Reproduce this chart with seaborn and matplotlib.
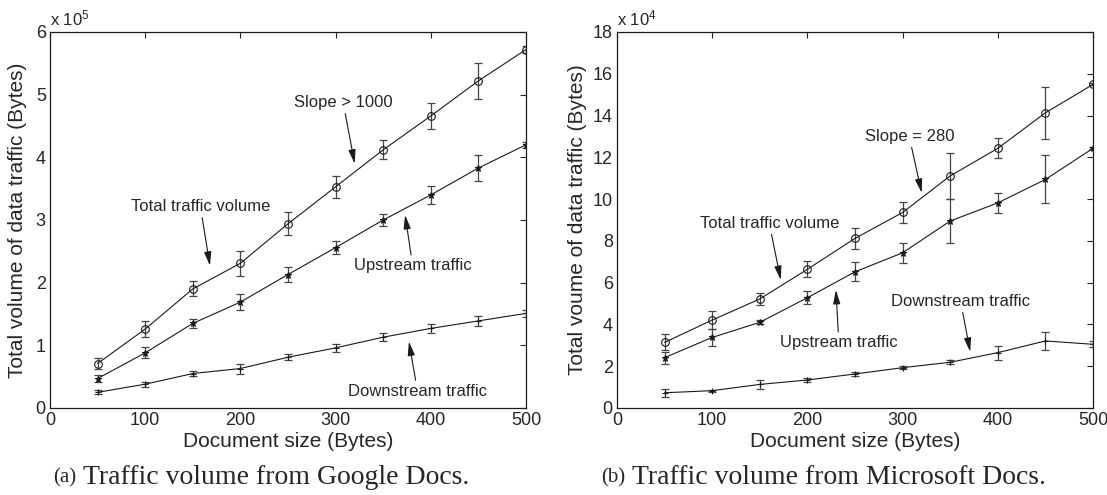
import matplotlib
matplotlib.use("Agg")
import matplotlib.pyplot as plt
import seaborn as sns
import pandas as pd

# document sizes (Bytes)
doc_size = [50, 100, 150, 200, 250, 300, 350, 400, 450, 500]

# Google Docs, values in units of 1e5 Bytes
g_total = [0.71, 1.26, 1.90, 2.31, 2.94, 3.53, 4.12, 4.66, 5.22, 5.72]
g_total_err = [0.08, 0.13, 0.12, 0.20, 0.18, 0.18, 0.15, 0.21, 0.29, 0.05]
g_up = [0.47, 0.88, 1.35, 1.69, 2.13, 2.56, 3.00, 3.40, 3.83, 4.20]
g_up_err = [0.06, 0.09, 0.07, 0.13, 0.12, 0.11, 0.09, 0.15, 0.20, 0.05]
g_down = [0.25, 0.38, 0.55, 0.63, 0.81, 0.96, 1.13, 1.27, 1.39, 1.51]
g_down_err = [0.03, 0.04, 0.04, 0.08, 0.05, 0.06, 0.06, 0.07, 0.08, 0.05]

# Microsoft Docs, values in units of 1e4 Bytes
m_total = [3.14, 4.21, 5.22, 6.64, 8.12, 9.36, 11.11, 12.43, 14.13, 15.49]
m_total_err = [0.38, 0.42, 0.30, 0.38, 0.50, 0.50, 1.12, 0.48, 1.25, 0.05]
m_up = [2.41, 3.38, 4.10, 5.28, 6.52, 7.43, 8.95, 9.82, 10.94, 12.43]
m_up_err = [0.28, 0.40, 0.10, 0.32, 0.45, 0.47, 1.04, 0.49, 1.15, 0.05]
m_down = [0.73, 0.83, 1.13, 1.34, 1.63, 1.93, 2.19, 2.65, 3.21, 3.05]
m_down_err = [0.20, 0.05, 0.20, 0.08, 0.08, 0.08, 0.10, 0.33, 0.45, 0.15]

sns.set_theme(style="white")
plt.rcParams["font.family"] = ["Liberation Sans", "DejaVu Sans"]
plt.rcParams["mathtext.default"] = "regular"

W, H = 1107, 495
fig = plt.figure(figsize=(W / 100, H / 100), dpi=100)
ax1 = fig.add_axes([50 / W, 1 - 408 / H, 476 / W, 376 / H])
ax2 = fig.add_axes([617 / W, 1 - 408 / H, 476 / W, 376 / H])

arrow = dict(arrowstyle="-|>,head_length=0.7,head_width=0.18", color="k",
             lw=0.8, shrinkA=0, shrinkB=0)


def draw_panel(ax, total, total_err, up, up_err, down, down_err):
    series = [(total, total_err, "o"), (up, up_err, "*"), (down, down_err, "+")]
    for vals, errs, mk in series:
        df = pd.DataFrame({"size": doc_size, "vol": vals})
        ax.errorbar(df["size"], df["vol"], yerr=errs, fmt="none",
                    ecolor="#444444", elinewidth=0.9, capsize=3.2, capthick=0.9)
        sns.lineplot(data=df, x="size", y="vol", ax=ax, color="k", lw=0.8,
                     marker=mk, markersize=5.5 if mk == "o" else 5,
                     markerfacecolor="none" if mk == "o" else "k",
                     markeredgecolor="k", markeredgewidth=0.8)
    ax.set_xlim(0, 500)
    ax.set_xticks([0, 100, 200, 300, 400, 500])
    ax.set_xlabel("Document size (Bytes)", fontsize=15, labelpad=2)
    ax.tick_params(direction="in", top=True, right=True, length=4,
                   width=0.8, labelsize=13, pad=3)
    for s in ax.spines.values():
        s.set_color("k")
        s.set_linewidth(0.9)


draw_panel(ax1, g_total, g_total_err, g_up, g_up_err, g_down, g_down_err)
ax1.set_ylim(0, 6)
ax1.set_yticks(range(0, 7))
ax1.set_ylabel("Total volume of data traffic (Bytes)", fontsize=15, labelpad=6)
ax1.text(0.0, 1.01, "x 10$^{5}$", transform=ax1.transAxes,
         fontsize=12, ha="left", va="bottom")

ax1.annotate("Slope > 1000", xy=(320, 3.90), xytext=(308, 4.87),
             fontsize=12, ha="center", va="center", arrowprops=arrow)
ax1.annotate("Total traffic volume", xy=(168, 2.27), xytext=(158, 3.21),
             fontsize=12, ha="center", va="center", arrowprops=arrow)
ax1.annotate("Upstream traffic", xy=(373, 3.08), xytext=(381, 2.27),
             fontsize=12, ha="center", va="center", arrowprops=arrow)
ax1.annotate("Downstream traffic", xy=(377, 1.06), xytext=(386, 0.27),
             fontsize=12, ha="center", va="center", arrowprops=arrow)

draw_panel(ax2, m_total, m_total_err, m_up, m_up_err, m_down, m_down_err)
ax2.set_ylim(0, 18)
ax2.set_yticks(range(0, 19, 2))
ax2.set_ylabel("Total voume of data traffic (Bytes)", fontsize=15, labelpad=4)
ax2.text(0.0, 1.01, "x 10$^{4}$", transform=ax2.transAxes,
         fontsize=12, ha="left", va="bottom")

ax2.annotate("Slope = 280", xy=(320, 10.30), xytext=(307, 12.99),
             fontsize=12, ha="center", va="center", arrowprops=arrow)
ax2.annotate("Total traffic volume", xy=(172, 6.13), xytext=(160, 8.83),
             fontsize=12, ha="center", va="center", arrowprops=arrow)
ax2.annotate("Upstream traffic", xy=(230, 5.65), xytext=(233, 3.12),
             fontsize=12, ha="center", va="center", arrowprops=arrow)
ax2.annotate("Downstream traffic", xy=(371, 2.69), xytext=(361, 5.09),
             fontsize=12, ha="center", va="center", arrowprops=arrow)

# captions under each panel
serif = ["Liberation Serif", "DejaVu Serif"]
captions = [("(a)", "Traffic volume from Google Docs.", 83),
            ("(b)", "Traffic volume from Microsoft Docs.", 632)]
for tag, cap, cap_x in captions:
    fig.text((cap_x - 7) / W, 1 - 478 / H, tag, ha="right", va="center",
             fontsize=15, family=serif)
    fig.text(cap_x / W, 1 - 478 / H, cap, ha="left", va="center",
             fontsize=20, family=serif)

fig.savefig("out.png", dpi=100)
plt.close()
